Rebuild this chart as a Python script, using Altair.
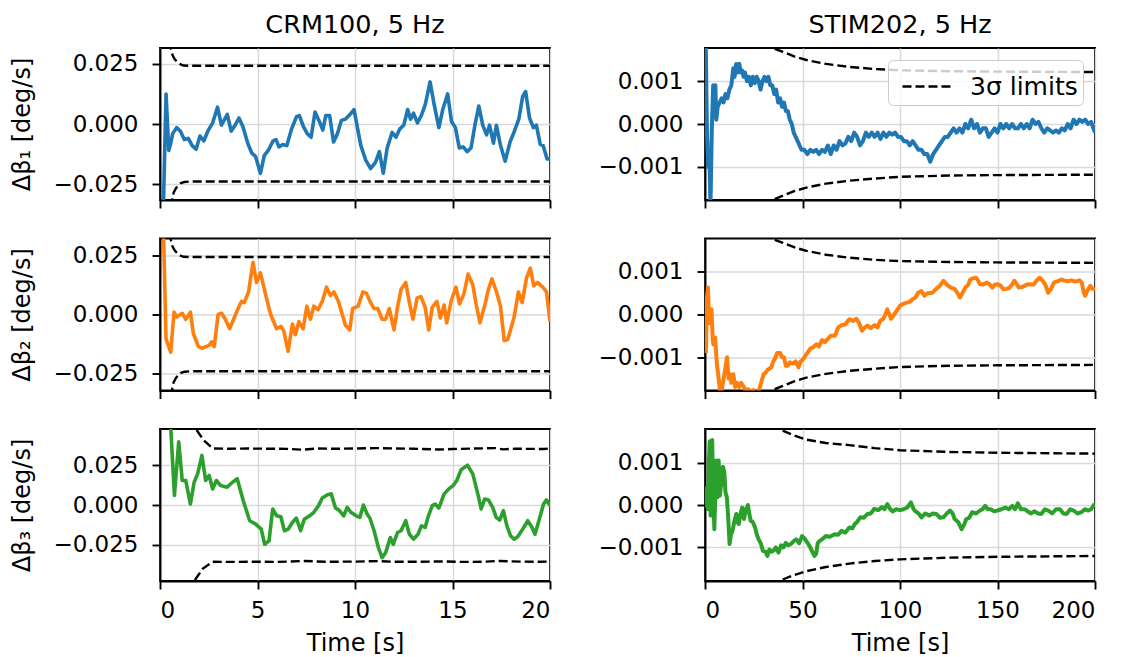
import altair as alt
import pandas as pd

FONT = "DejaVu Sans"
BLUE, ORANGE, GREEN = "#1f77b4", "#ff7f0e", "#2ca02c"

col_titles = ["CRM100, 5 Hz", "STIM202, 5 Hz"]
row_titles = ["Δβ₁ [deg/s]", "Δβ₂ [deg/s]", "Δβ₃ [deg/s]"]
legend_label = "3σ limits"
x_ticks_left = [0, 5, 10, 15, 20]
x_ticks_right = [0, 50, 100, 150, 200]
y_ticks_left = [-0.025, 0.0, 0.025]
y_ticks_right = [-0.001, 0.0, 0.001]
y_limits_left = [0.0316, 0.032, 0.0478]
y_limits_right = [0.00177, 0.00178, 0.00179]

# ---- CRM100 (time [s], value [deg/s]) ----
crm_b1 = [(0.1,-0.06),(0.31,0.0125),(0.45,-0.011),(0.55,-0.008),(0.65,-0.004),(0.85,-0.0015),(1.05,-0.003),
          (1.25,-0.0065),(1.45,-0.006),(1.65,-0.009),(1.85,-0.0105),(2.05,-0.005),(2.25,-0.007),(2.45,-0.003),
          (2.7,0.0005),(2.95,0.007),(3.15,-0.0005),(3.45,0.004),(3.65,-0.003),(3.85,-0.0005),(4.05,0.0025),
          (4.25,-0.001),(4.5,-0.008),(4.7,-0.012),(4.9,-0.0135),(5.15,-0.0205),(5.35,-0.013),(5.55,-0.011),
          (5.8,-0.007),(5.95,-0.0065),(6.1,-0.0095),(6.3,-0.0085),(6.5,-0.009),(6.75,-0.002),(7.0,0.003),
          (7.15,0.0035),(7.35,-0.001),(7.55,-0.004),(7.75,-0.0055),(7.95,0.005),(8.15,0.0015),(8.35,-0.0025),
          (8.5,0.0035),(8.7,0.0035),(8.9,-0.0075),(9.1,-0.004),(9.3,0.0015),(9.5,0.002),(9.75,0.004),
          (9.95,0.006),(10.1,-0.0005),(10.3,-0.009),(10.55,-0.015),(10.8,-0.0185),(11.05,-0.016),
          (11.25,-0.0115),(11.45,-0.0205),(11.65,-0.010),(11.9,-0.0035),(12.1,-0.0055),(12.3,-0.002),
          (12.5,-0.0005),(12.7,0.006),(12.85,0.002),(13.0,0.0045),(13.2,0.0005),(13.4,0.0035),(13.6,0.008),
          (13.85,0.0175),(14.05,0.0085),(14.3,-0.0015),(14.5,0.006),(14.75,0.0125),(14.95,0.001),
          (15.15,-0.0015),(15.35,-0.010),(15.55,-0.0095),(15.75,-0.0115),(15.95,-0.010),(16.15,-0.0005),
          (16.35,0.0075),(16.55,-0.0005),(16.75,-0.0045),(16.9,-0.0005),(17.1,-0.008),(17.25,-0.0005),
          (17.45,-0.0085),(17.7,-0.0155),(17.95,-0.0075),(18.15,-0.0035),(18.4,0.002),(18.6,0.0115),
          (18.75,0.0135),(18.95,0.0025),(19.15,-0.0015),(19.3,-0.0005),(19.5,-0.0085),(19.65,-0.009),
          (19.85,-0.0145),(20.0,-0.0145)]
crm_b2 = [(0.15,0.045),(0.31,-0.0103),(0.55,-0.0159),(0.72,0.001),(0.87,-0.001),(1.14,0.0005),(1.32,-0.002),
          (1.56,0.001),(1.71,-0.008),(1.97,-0.0135),(2.15,-0.0142),(2.52,-0.013),(2.65,-0.0115),(2.78,-0.0135),
          (2.98,0.0),(3.16,0.0005),(3.35,-0.002),(3.57,-0.006),(3.8,-0.0015),(4.03,0.003),(4.18,0.0055),
          (4.32,0.005),(4.54,0.0095),(4.77,0.022),(4.95,0.0135),(5.15,0.0175),(5.37,0.01),(5.56,0.0035),
          (5.7,-0.0005),(5.98,-0.006),(6.2,-0.005),(6.35,-0.007),(6.57,-0.0155),(6.79,-0.004),(6.94,-0.0085),
          (7.12,-0.003),(7.34,-0.006),(7.53,0.0035),(7.71,-0.002),(7.89,0.0035),(8.1,0.002),(8.32,0.0055),
          (8.54,0.0115),(8.74,0.008),(8.92,0.0095),(9.15,0.0055),(9.51,-0.0045),(9.73,-0.0065),(9.88,0.0025),
          (10.16,0.0035),(10.4,0.0095),(10.58,0.009),(10.8,0.005),(10.98,0.0025),(11.17,0.0025),(11.39,-0.002),
          (11.57,-0.002),(11.76,0.0025),(12.0,-0.0065),(12.18,0.003),(12.36,0.0105),(12.6,0.0135),(12.79,0.005),
          (12.97,-0.002),(13.19,0.007),(13.38,0.0075),(13.6,0.003),(13.78,-0.0065),(13.96,0.003),(14.2,0.0055),
          (14.38,-0.0015),(14.57,0.004),(14.7,-0.0035),(14.94,0.006),(15.18,0.0115),(15.36,0.0045),
          (15.58,0.0085),(15.8,0.017),(16.04,0.0125),(16.22,0.004),(16.41,-0.0035),(16.69,0.005),(16.84,0.0105),
          (17.02,0.015),(17.24,0.01),(17.46,0.0035),(17.65,-0.011),(17.83,-0.0105),(18.01,-0.0055),
          (18.16,-0.001),(18.38,0.0095),(18.57,0.005),(18.8,0.0155),(18.99,0.0195),(19.17,0.012),
          (19.36,0.0135),(19.63,0.0115),(19.82,0.0095),(20.0,-0.003)]
crm_b3 = [(0.5,0.06),(0.74,0.006),(0.96,0.0397),(1.14,0.0154),(1.32,0.0154),(1.56,0.0006),(1.75,0.0143),
          (1.93,0.0196),(2.15,0.0312),(2.34,0.0154),(2.52,0.0186),(2.7,0.0101),(2.89,0.0154),(3.11,0.0122),
          (3.44,0.0112),(3.72,0.0143),(3.96,0.0165),(4.27,0.0027),(4.6,-0.0099),(4.91,-0.012),(5.19,-0.0152),
          (5.37,-0.0247),(5.59,-0.0226),(5.78,-0.0025),(5.98,-0.0068),(6.2,-0.0074),(6.38,-0.0162),
          (6.57,-0.0152),(6.79,-0.011),(6.99,-0.0082),(7.21,-0.0162),(7.4,-0.0089),(7.67,-0.0068),
          (7.89,-0.0046),(8.13,-0.0004),(8.32,0.0044),(8.59,0.0065),(8.78,0.007),(9.0,-0.0019),(9.18,-0.0032),
          (9.42,-0.0068),(9.6,-0.0015),(9.79,-0.0046),(10.06,-0.0068),(10.25,-0.0078),(10.43,0.0),
          (10.62,-0.0057),(10.76,-0.0082),(10.98,-0.0162),(11.2,-0.0268),(11.39,-0.0331),(11.57,-0.030),
          (11.81,-0.0205),(11.96,-0.0247),(12.18,-0.0173),(12.36,-0.0162),(12.6,-0.0099),(12.79,-0.0184),
          (13.0,-0.0215),(13.23,-0.0184),(13.41,-0.0131),(13.6,-0.0141),(13.74,-0.0078),(13.96,-0.0004),
          (14.11,0.0006),(14.3,-0.0019),(14.57,0.007),(14.81,0.0101),(15.03,0.0122),(15.22,0.0154),
          (15.44,0.0222),(15.77,0.025),(16.04,0.0196),(16.32,0.0059),(16.47,-0.0025),(16.65,0.0038),
          (16.84,0.0032),(17.06,-0.0015),(17.24,-0.0078),(17.42,-0.0095),(17.61,-0.0036),(17.79,-0.0131),
          (17.98,-0.0194),(18.16,-0.0215),(18.34,-0.020),(18.57,-0.0158),(18.86,-0.0099),(19.08,-0.0141),
          (19.23,-0.0184),(19.45,-0.0089),(19.67,0.0006),(19.82,0.0032),(20.0,-0.0004)]
crm_lim12_up = [(0.45,0.040),(0.55,0.0316),(0.65,0.0285),(0.75,0.0270),(0.86,0.0260),(1.0,0.0250),
                (1.2,0.0243),(1.5,0.0242),(20.0,0.0242)]
crm_lim12_lo = [(0.5,-0.040),(0.62,-0.0316),(0.7,-0.0285),(0.8,-0.0270),(0.9,-0.0258),(1.05,-0.0247),
                (1.25,-0.0241),(1.6,-0.0239),(20.0,-0.0239)]
crm_lim3_up = [(1.7,0.055),(1.84,0.0478),(2.24,0.0407),(2.7,0.0356),(3.5,0.0354),(4.5,0.0355),(5.5,0.0354),
               (6.5,0.0353),(7.3,0.0348),(8.0,0.0355),(9.0,0.0354),(10.0,0.0355),(11.0,0.0358),(12.0,0.0356),
               (13.0,0.0354),(14.3,0.0349),(15.0,0.0352),(16.0,0.0355),(17.2,0.0358),(17.6,0.0350),
               (18.2,0.0354),(19.0,0.0353),(19.7,0.0352),(20.0,0.0356)]
crm_lim3_lo = [(1.6,-0.055),(1.75,-0.0479),(2.2,-0.040),(2.7,-0.0357),(3.5,-0.0358),(5.0,-0.0357),
               (6.0,-0.0358),(7.4,-0.0352),(8.5,-0.0357),(10.0,-0.0356),(11.2,-0.0353),(12.0,-0.0357),
               (13.0,-0.0357),(14.5,-0.0355),(15.5,-0.0358),(16.5,-0.0357),(17.4,-0.0352),(18.5,-0.0356),
               (19.5,-0.0357),(20.0,-0.0356)]

# ---- STIM202 (time [s], value [deg/s]) ----
stim_b1 = [(0.2,0.0025),(1.0,-0.0002),(1.6,-0.0010),(2.2,-0.0006),(2.8,-0.0019),(3.5,-0.0001),(4.2,0.0009),
           (4.7,0.0002),(5.3,0.0009),(5.8,0.0001),(6.5,0.0004),(7.5,0.0005),(8.5,0.0006),(9.5,0.0005),
           (10.5,0.0007),(11.5,0.0006),(12.5,0.0008),(13.5,0.0009),(14.5,0.0013),(15.2,0.0011),(16,0.0014),
           (16.8,0.0012),(17.6,0.0014),(18.3,0.0012),(19,0.00125),(19.8,0.0011),(20.5,0.0012),(21.5,0.0010),
           (22.5,0.0011),(23.5,0.0009),(24.5,0.0011),(25.5,0.00095),(26.5,0.0011),(27.5,0.0010),(28.5,0.0008),
           (29.5,0.0010),(30.5,0.0011),(31.5,0.0010),(32.5,0.0011),(33.5,0.0009),(34.5,0.0009),(35.5,0.0007),
           (36.5,0.0008),(37.5,0.0005),(38.5,0.0006),(39.5,0.0004),(40.5,0.0005),(41.5,0.0003),(42.5,0.0003),
           (43.5,0.0001),(44.5,0.0),(45.5,-0.0002),(46.5,-0.0003),(47.5,-0.0004),(48.5,-0.0005),
           (49.5,-0.0006),(51,-0.0006),(52.5,-0.0007),(54,-0.0006),(55.5,-0.00065),(57,-0.0006),
           (58.5,-0.0007),(60,-0.0006),(61.5,-0.00065),(63,-0.0005),(64.5,-0.0007),(66,-0.0005),
           (67.5,-0.0006),(69,-0.0004),(70.5,-0.0005),(72,-0.00045),(73.5,-0.0003),(75,-0.0004),
           (76.5,-0.0002),(78,-0.0003),(79.5,-0.0005),(81,-0.0004),(82.5,-0.0002),(84,-0.0003),
           (85.5,-0.0002),(87,-0.0003),(88.5,-0.0002),(90,-0.00035),(91.5,-0.0002),(93,-0.0003),
           (94.5,-0.0002),(96,-0.00025),(97.5,-0.0002),(99,-0.0003),(100.5,-0.0003),(102,-0.0004),
           (103.5,-0.0004),(105,-0.0005),(106.5,-0.0004),(108,-0.0005),(109.5,-0.0006),(111,-0.0006),
           (112.5,-0.0007),(114,-0.0007),(115.5,-0.00088),(117,-0.0007),(118.5,-0.0006),(120,-0.0005),
           (121.5,-0.0004),(123,-0.0003),(124.5,-0.0003),(126,-0.0002),(127.5,-0.0001),(129,-0.0002),
           (130.5,-0.0001),(132,-0.0002),(133.5,0.0),(135,-0.0001),(136.5,0.0001),(138,-0.0001),
           (139.5,0.0),(141,-0.0002),(142.5,-0.0001),(144,-0.0001),(145.5,-0.0003),(147,-0.0002),
           (148.5,-0.0001),(150,-0.0002),(151.5,0.0),(153,-0.0001),(154.5,0.0),(156,-0.0001),(157.5,0.0),
           (159,-0.0001),(160.5,-0.0001),(162,0.0),(163.5,-0.0001),(165,0.0),(166.5,-0.0001),(168,0.0001),
           (169.5,0.0),(171,0.00005),(172.5,-0.0001),(174,-0.0002),(175.5,-0.0001),(177,-0.00015),
           (178.5,-0.0002),(180,-0.00015),(181.5,-0.0002),(183,-0.0001),(184.5,-0.00015),(186,0.0),
           (187.5,-0.0001),(189,0.0001),(190.5,0.0),(192,0.0001),(193.5,0.00005),(195,0.0001),(196.5,0.0),
           (198,0.00005),(199.2,-0.0001),(200,-0.0002)]
stim_b2 = [(0.5,-0.0009),(1.0,0.0004),(1.5,0.00063),(2.2,-0.0002),(2.8,0.0001),(3.3,0.00012),(4.0,-0.0006),
           (4.3,-0.0007),(5.2,-0.00054),(6.1,-0.00116),(7,-0.0015),(8,-0.0019),(9.2,-0.0016),(10.3,-0.0013),
           (11.3,-0.001),(12.1,-0.0015),(12.8,-0.0014),(13.5,-0.0016),(14.5,-0.0014),(15.5,-0.0017),
           (16.4,-0.0016),(17.5,-0.0017),(18.5,-0.0016),(20,-0.0017),(21,-0.0018),(22,-0.00175),
           (23.5,-0.0018),(25,-0.00177),(26.5,-0.0019),(27.5,-0.0018),(28.5,-0.00165),(30,-0.0014),
           (31,-0.00137),(32,-0.0013),(33,-0.00127),(34,-0.00124),(35,-0.0011),(36,-0.00102),(37,-0.0009),
           (38.5,-0.0009),(39.5,-0.001),(40.5,-0.0010),(41.5,-0.0012),(42.4,-0.0012),(43.5,-0.00112),
           (45.2,-0.00115),(46.5,-0.0011),(48,-0.00124),(49,-0.0011),(49.8,-0.00108),(51,-0.001),
           (52.5,-0.0009),(54,-0.0008),(55.4,-0.00077),(57.2,-0.0007),(58.5,-0.00075),(60,-0.0006),
           (61.5,-0.00065),(62.8,-0.00058),(64.5,-0.0005),(66.5,-0.0005),(67.5,-0.0004),(68.4,-0.0003),
           (70,-0.00025),(72,-0.00023),(74,-0.00011),(76,-0.00015),(77.7,-0.0001),(79,-0.0002),
           (80.5,-0.00038),(82,-0.0003),(83.3,-0.00026),(85,-0.00032),(87,-0.00025),(88.5,-0.0003),
           (89.8,-0.00015),(91.5,-0.0001),(93.5,0.00012),(95.4,-0.0001),(97,0.0),(98.5,0.0001),(100,0.0002),
           (101.5,0.00025),(103.7,0.00028),(105,0.0003),(106.5,0.00036),(108,0.0004),(109.3,0.00051),
           (111,0.00055),(112.5,0.00044),(114,0.0005),(116.7,0.00051),(118.5,0.0006),(120.4,0.00067),
           (122.3,0.00079),(124,0.0007),(126,0.00063),(128,0.0006),(129.5,0.0005),(130.7,0.0004),
           (132,0.0005),(133.5,0.00063),(135,0.0007),(136,0.00082),(137.5,0.00085),(139,0.00086),
           (140,0.0008),(141,0.00071),(142.5,0.0007),(144.6,0.00075),(146,0.0007),(147.4,0.00063),
           (148.5,0.0007),(150,0.00071),(151.5,0.00068),(153,0.00059),(154.5,0.0006),(156,0.00062),
           (157.5,0.0007),(158.6,0.00079),(160,0.0007),(161,0.00063),(163,0.00065),(165,0.0007),
           (167,0.00071),(168.5,0.0007),(170,0.00079),(171.6,0.00086),(173,0.0008),(174.5,0.0007),
           (176,0.00051),(177.5,0.0006),(179,0.00075),(181,0.00078),(182.7,0.00082),(184,0.0008),
           (186,0.00078),(188,0.0008),(190,0.00077),(192,0.0008),(193.2,0.00075),(194.3,0.0005),
           (195,0.00044),(196,0.00055),(197.6,0.00067),(198.8,0.0006),(200,0.00059)]
stim_b3 = [(0.3,-0.00006),(1.0,0.0004),(1.5,-0.0001),(2.0,0.001),(2.4,0.0015),(2.9,-0.00025),(3.3,0.0009),
           (3.7,0.00153),(4.2,0.0002),(4.8,-0.00057),(5.3,0.0003),(5.8,0.00105),(6.3,0.00018),(7,0.00105),
           (7.6,0.00022),(8.3,0.0005),(9.2,0.0009),(9.9,0.00077),(10.5,0.0003),(11.2,0.00018),(11.9,-0.0003),
           (12.6,-0.00092),(13.3,-0.0007),(14.1,-0.00061),(15,-0.0004),(16,-0.00021),(16.7,-0.0004),
           (17.3,-0.00045),(18.2,-0.0002),(19.1,-0.00006),(20,-0.00033),(21,-0.0001),(22,0.0),(22.7,-0.0002),
           (23.4,-0.00037),(24.5,-0.0004),(25.7,-0.00053),(26.6,-0.0007),(27.5,-0.00081),(28.6,-0.0009),
           (29.7,-0.00108),(31,-0.0011),(32,-0.0012),(33,-0.00105),(34,-0.0011),(35,-0.00108),(36.3,-0.001),
           (37.7,-0.00112),(39,-0.00095),(40.2,-0.001),(41.4,-0.00089),(42.7,-0.00095),(44,-0.00092),
           (45.5,-0.00085),(46.8,-0.00081),(48.3,-0.0009),(49.8,-0.00073),(51.2,-0.0008),(52.6,-0.00089),
           (54,-0.001),(55,-0.0011),(56.1,-0.0012),(57,-0.00115),(57.8,-0.0009),(58.7,-0.00085),
           (60.3,-0.0008),(62,-0.00073),(64,-0.00075),(66.5,-0.00069),(68.3,-0.0007),(70,-0.00061),
           (72,-0.00065),(74,-0.00053),(75.5,-0.00055),(76.8,-0.00045),(78,-0.0004),(79.6,-0.00029),
           (81.5,-0.0003),(83.3,-0.00021),(85,-0.0002),(86.8,-0.00009),(88.8,-0.00012),(90.7,-0.00005),
           (92,-0.0001),(93.5,0.00002),(95,-0.0001),(96.3,-0.00015),(98,-0.0001),(100,-0.00012),
           (101.8,-0.0001),(103.7,-0.00006),(105.6,0.00006),(107,-0.0001),(108,-0.00015),(109.5,-0.0002),
           (111,-0.00029),(113,-0.0002),(115,-0.00025),(116.8,-0.0002),(118.6,-0.00021),(120.5,-0.0003),
           (122.3,-0.00029),(124,-0.0002),(125.7,-0.00013),(127,-0.0002),(128,-0.00033),(129.8,-0.0004),
           (131.6,-0.00057),(133,-0.00045),(134,-0.00033),(135.5,-0.0003),(137,-0.00017),(139,-0.0002),
           (141,-0.00013),(142.3,-0.0001),(143.7,-0.00002),(145,-0.0001),(146.5,-0.0001),(148.3,-0.00015),
           (150,-0.00013),(152,-0.0001),(154,-0.00006),(155.8,-0.0001),(157.6,-0.00002),(159,-0.0001),
           (160.4,0.00004),(162,-0.0001),(164,-0.0001),(165.5,-0.00015),(167,-0.0002),(169,-0.00015),
           (170.8,-0.0002),(172.5,-0.00021),(174.3,-0.0001),(176,-0.00013),(178,-0.0002),(180,-0.0001),
           (182,-0.0001),(183.8,-0.0002),(185.5,-0.00021),(187.3,-0.0001),(189,-0.00013),(191,-0.0002),
           (193,-0.00017),(194.8,-0.0001),(196.6,-0.00013),(198,-0.0001),(199.4,0.0),(200,-0.00002)]
stim_lim12_up = [(30,0.0019),(34,0.00178),(40,0.00168),(46,0.00157),(52,0.00149),(62,0.0014),(74,0.00133),
                 (87,0.00128),(100,0.00125),(125,0.00123),(150,0.00122),(200,0.00121)]
stim_lim12_lo = [(30,-0.0019),(34,-0.00178),(40,-0.00167),(46,-0.00156),(52,-0.00148),(62,-0.00139),
                 (74,-0.00132),(87,-0.00127),(100,-0.00123),(125,-0.0012),(150,-0.00119),(200,-0.00118)]
stim_lim3_up = [(34,0.0019),(38.5,0.00178),(45,0.00165),(52,0.00154),(62,0.00146),(74,0.00141),
                (87,0.00134),(100,0.00129),(125,0.00125),(150,0.00123),(200,0.00121)]
stim_lim3_lo = [(34,-0.0019),(38.5,-0.00178),(45,-0.00166),(52,-0.00156),(62,-0.00146),(74,-0.00138),
                (87,-0.00132),(100,-0.00128),(125,-0.00124),(150,-0.00122),(200,-0.0012)]

DASH = [9, 4]


def panel(series, color, lim_up, lim_lo, row, col):
    sdf = pd.DataFrame(series, columns=["t", "v"])
    ldf = pd.concat([
        pd.DataFrame(lim_up, columns=["t", "v"]).assign(side="up"),
        pd.DataFrame(lim_lo, columns=["t", "v"]).assign(side="lo"),
    ], ignore_index=True)
    ldf["lab"] = legend_label
    bottom = row == 2
    left = col == 0
    xdom = [0, 20] if left else [0, 200]
    xticks = x_ticks_left if left else x_ticks_right
    ylim = y_limits_left[row] if left else y_limits_right[row]
    yticks = y_ticks_left if left else y_ticks_right

    xaxis = alt.Axis(values=xticks, labels=bottom, format="d",
                     title="Time [s]" if bottom else None)
    yaxis = alt.Axis(values=yticks, format=".3f",
                     title=row_titles[row] if left else None)
    x = alt.X("t:Q", scale=alt.Scale(domain=xdom, nice=False, zero=False), axis=xaxis)
    y = alt.Y("v:Q", scale=alt.Scale(domain=[-ylim, ylim], nice=False, zero=False), axis=yaxis)

    line = alt.Chart(sdf).mark_line(color=color, strokeWidth=3.6 if left else 4.0, clip=True,
                                    strokeJoin="round").encode(x=x, y=y)
    enc = dict(x="t:Q", y="v:Q", detail="side:N")
    if row == 0 and col == 1:
        enc["color"] = alt.Color(
            "lab:N",
            scale=alt.Scale(domain=[legend_label], range=["black"]),
            legend=alt.Legend(title=None, orient="top-right", offset=12, padding=5,
                              fillColor="rgba(255,255,255,0.8)", strokeColor="#cccccc",
                              cornerRadius=5, labelFont=FONT, labelFontSize=25,
                              labelColor="black", symbolType="M-1.3,0H1.3", symbolSize=1600,
                              symbolStrokeWidth=2.4, symbolDash=DASH, symbolOffset=14,
                              symbolStrokeColor="black", labelOffset=20),
        )
    lim = alt.Chart(ldf).mark_line(color="black", strokeDash=DASH, strokeWidth=2.4,
                                   clip=True).encode(**enc)
    ch = alt.layer(line, lim).properties(width=390, height=152)
    if row == 0:
        ch = ch.properties(title=alt.TitleParams(col_titles[col], font=FONT, fontSize=25.5,
                                                 fontWeight="normal", anchor="middle",
                                                 offset=10, color="black"))
    return ch


panels = [
    panel(crm_b1, BLUE, crm_lim12_up, crm_lim12_lo, 0, 0),
    panel(stim_b1, BLUE, stim_lim12_up, stim_lim12_lo, 0, 1),
    panel(crm_b2, ORANGE, crm_lim12_up, crm_lim12_lo, 1, 0),
    panel(stim_b2, ORANGE, stim_lim12_up, stim_lim12_lo, 1, 1),
    panel(crm_b3, GREEN, crm_lim3_up, crm_lim3_lo, 2, 0),
    panel(stim_b3, GREEN, stim_lim3_up, stim_lim3_lo, 2, 1),
]

chart = alt.concat(
    *panels, columns=2, spacing=alt.RowColnumber(row=38.5, column=155), bounds="flush"
).resolve_scale(color="independent").resolve_legend(color="independent").properties(
    padding={"left": 9, "top": 11, "right": 5, "bottom": 0},
    background="white",
).configure(font=FONT).configure_view(
    stroke="black", strokeWidth=1.9
).configure_axis(
    labelFont=FONT, labelFontSize=23, labelColor="black",
    titleFont=FONT, titleFontSize=24, titleFontWeight="normal", titleColor="black",
    domainColor="black", domainWidth=1.9, tickColor="black", tickWidth=1.9, tickSize=8,
    gridColor="#d9d9d9", gridWidth=1.5,
).configure_axisX(
    labelPadding=10, titlePadding=9,
).configure_axisY(
    labelPadding=14, titlePadding=18,
)

chart.save("out.html", embed_options={"renderer": "svg", "actions": False})
